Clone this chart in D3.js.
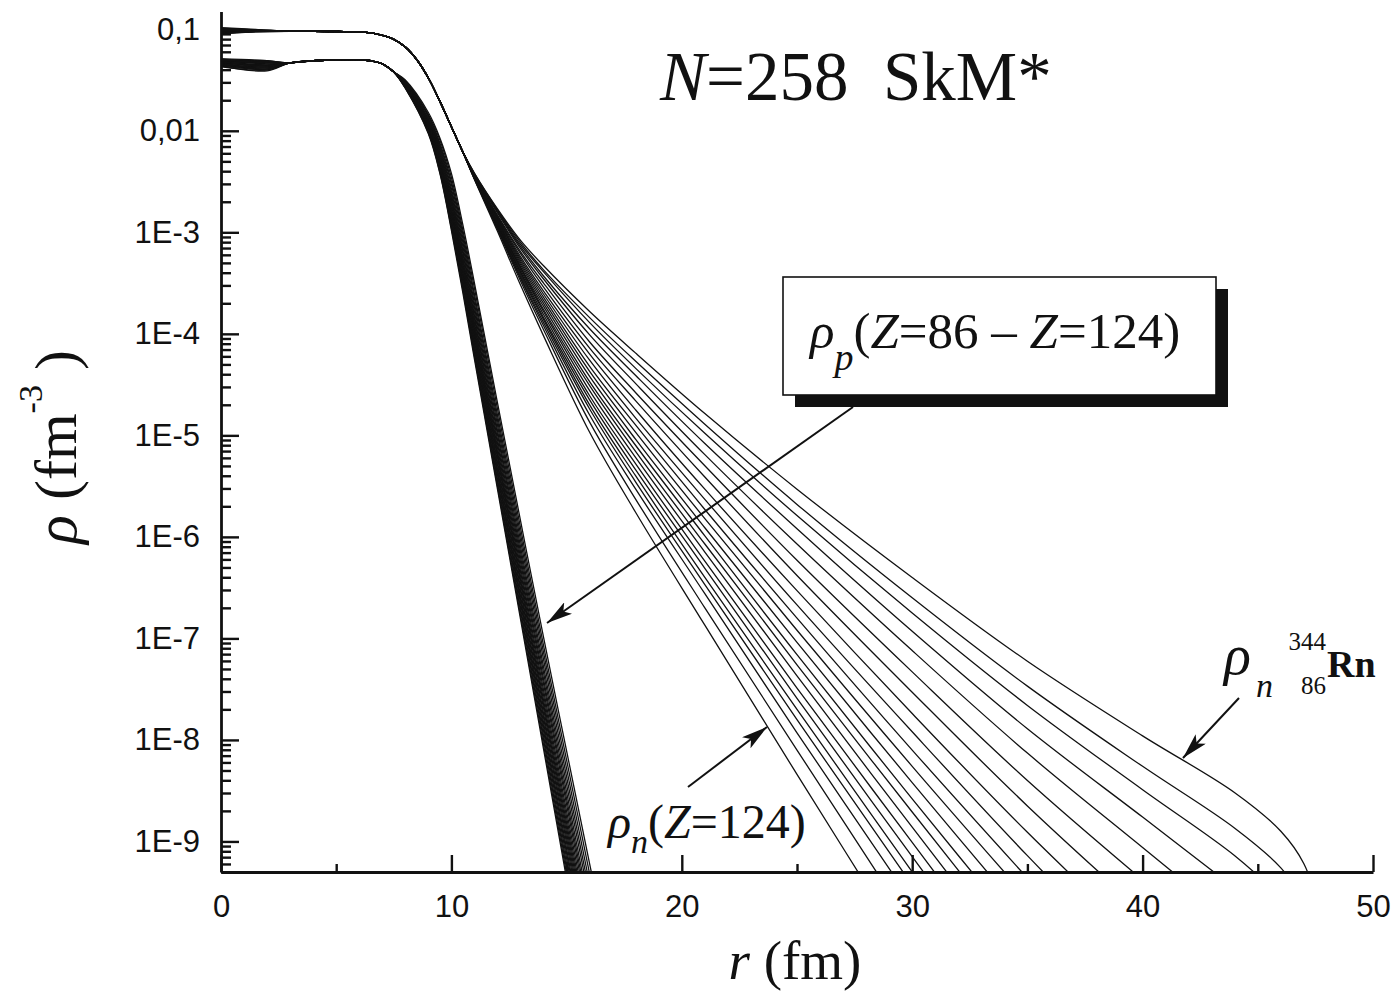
<!DOCTYPE html>
<html>
<head>
<meta charset="utf-8">
<script src="https://cdn.jsdelivr.net/npm/d3@7"></script>
<style>
  html, body { margin: 0; padding: 0; background: #fff; }
  svg { display: block; }
  .serif { font-family: "Liberation Serif", "Times New Roman", serif; fill: #111; }
  .sans { font-family: "Liberation Sans", Arial, sans-serif; fill: #111; }
</style>
</head>
<body>
<svg id="chart" width="1400" height="996"></svg>
<script>
// ---------------- data (densities given as log10 of rho, fm^-3) ----------------
const xTickValues = [0, 10, 20, 30, 40, 50];
const xMinorTicks = [5, 15, 25, 35, 45];
const yTickValues = [1e-1, 1e-2, 1e-3, 1e-4, 1e-5, 1e-6, 1e-7, 1e-8, 1e-9];
const yTickLabels = ["0,1", "0,01", "1E-3", "1E-4", "1E-5", "1E-6", "1E-7", "1E-8", "1E-9"];

// neutron densities: individual centre values, common interior, individual tails
const neutronCenterR = [0, 1.5];
const neutronCenterLog = [
  [-1.00, -1.01], [-1.02, -1.015], [-1.04, -1.02], [-0.99, -1.005], [-1.03, -1.02], [-1.01, -1.01],
  [-1.045, -1.025], [-1.00, -1.01], [-1.02, -1.02], [-0.985, -1.00], [-1.03, -1.015], [-1.015, -1.01],
  [-1.035, -1.02], [-1.00, -1.01], [-1.025, -1.015], [-1.04, -1.025], [-1.01, -1.01], [-0.995, -1.005],
  [-1.03, -1.02], [-1.02, -1.015], [-1.005, -1.01], [-1.04, -1.02]
];
const neutronCoreR = [3, 4, 5, 6, 6.5, 7, 7.5, 8, 8.5, 9, 9.5, 10, 10.5];
const neutronCoreLog = [-1.02, -1.02, -1.022, -1.025, -1.035, -1.06, -1.10, -1.175, -1.30, -1.48, -1.71, -1.96, -2.21];
const neutronTailR = [11, 12, 13, 14, 16, 18, 21, 25, 30, 35, 40, 44, 46, 47, 48];
const neutronTailLog = [
  [-2.48, -2.99, -3.52, -4.02, -4.97, -5.76, -6.87, -8.34, -10.15],
  [-2.475, -2.97, -3.48, -3.96, -4.87, -5.63, -6.70, -8.10, -9.84],
  [-2.47, -2.96, -3.455, -3.92, -4.80, -5.53, -6.56, -7.93, -9.60],
  [-2.47, -2.95, -3.44, -3.89, -4.74, -5.46, -6.47, -7.80, -9.43],
  [-2.47, -2.94, -3.42, -3.86, -4.70, -5.40, -6.40, -7.70, -9.30, -10.88],
  [-2.46, -2.93, -3.40, -3.84, -4.65, -5.34, -6.31, -7.59, -9.15, -10.69],
  [-2.46, -2.92, -3.39, -3.81, -4.61, -5.28, -6.24, -7.49, -9.01, -10.52],
  [-2.46, -2.91, -3.37, -3.78, -4.56, -5.22, -6.15, -7.37, -8.86, -10.33],
  [-2.46, -2.91, -3.35, -3.76, -4.51, -5.16, -6.07, -7.26, -8.71, -10.14],
  [-2.46, -2.90, -3.34, -3.73, -4.47, -5.10, -5.99, -7.16, -8.58, -9.97],
  [-2.45, -2.89, -3.32, -3.70, -4.42, -5.04, -5.91, -7.04, -8.42, -9.77],
  [-2.45, -2.88, -3.30, -3.67, -4.37, -4.97, -5.82, -6.92, -8.26, -9.56],
  [-2.45, -2.87, -3.28, -3.64, -4.32, -4.90, -5.73, -6.80, -8.10, -9.36],
  [-2.44, -2.86, -3.26, -3.61, -4.26, -4.83, -5.63, -6.67, -7.92, -9.14, -10.29],
  [-2.44, -2.85, -3.24, -3.58, -4.20, -4.75, -5.53, -6.53, -7.74, -8.91, -10.00],
  [-2.44, -2.84, -3.21, -3.54, -4.14, -4.66, -5.41, -6.38, -7.53, -8.65, -9.69],
  [-2.44, -2.83, -3.19, -3.50, -4.08, -4.58, -5.30, -6.23, -7.33, -8.40, -9.38],
  [-2.43, -2.81, -3.16, -3.46, -4.01, -4.49, -5.19, -6.07, -7.12, -8.13, -9.06, -9.80],
  [-2.43, -2.80, -3.14, -3.43, -3.95, -4.41, -5.08, -5.92, -6.93, -7.89, -8.76, -9.46],
  [-2.43, -2.79, -3.12, -3.39, -3.89, -4.34, -4.98, -5.79, -6.75, -7.66, -8.49, -9.14, -9.55],
  [-2.42, -2.78, -3.10, -3.37, -3.84, -4.27, -4.89, -5.68, -6.60, -7.47, -8.26, -8.87, -9.26, -9.59],
  [-2.42, -2.77, -3.08, -3.33, -3.78, -4.19, -4.785, -5.53, -6.40, -7.225, -7.96, -8.52, -8.90, -9.22, -9.90]
];

// proton densities: individual centre values, common interior, individual tails
const protonCenterR = [0, 2];
const protonCenterLog = [
  [-1.30, -1.32], [-1.33, -1.40], [-1.35, -1.38], [-1.31, -1.33], [-1.36, -1.41], [-1.32, -1.35],
  [-1.34, -1.37], [-1.30, -1.31], [-1.33, -1.36], [-1.37, -1.40], [-1.31, -1.34], [-1.35, -1.39],
  [-1.32, -1.33], [-1.34, -1.38], [-1.29, -1.31], [-1.36, -1.39], [-1.33, -1.35], [-1.31, -1.32],
  [-1.35, -1.37], [-1.32, -1.36], [-1.30, -1.33], [-1.34, -1.36]
];
const protonCoreR = [3, 4, 5, 6, 6.5, 7, 7.5];
const protonCoreLog = [-1.33, -1.31, -1.30, -1.30, -1.31, -1.34, -1.42];
const protonTailR = [8, 9, 9.5, 10, 10.5, 11, 12, 14, 16, 17];
const protonTailLog = [
  [-1.58, -2.03, -2.42, -2.98, -3.60, -4.25, -5.53, -8.09, -10.65],
  [-1.58, -2.02, -2.41, -2.96, -3.57, -4.22, -5.50, -8.05, -10.59],
  [-1.57, -2.01, -2.39, -2.94, -3.55, -4.19, -5.46, -8.00, -10.54],
  [-1.57, -2.01, -2.38, -2.91, -3.52, -4.16, -5.43, -7.96, -10.48],
  [-1.57, -2.00, -2.36, -2.89, -3.49, -4.13, -5.39, -7.91, -10.42],
  [-1.56, -1.99, -2.35, -2.87, -3.47, -4.10, -5.36, -7.87, -10.36],
  [-1.56, -1.98, -2.34, -2.85, -3.44, -4.07, -5.33, -7.83, -10.31],
  [-1.56, -1.97, -2.32, -2.82, -3.41, -4.04, -5.29, -7.78, -10.25],
  [-1.55, -1.96, -2.31, -2.80, -3.39, -4.01, -5.26, -7.74, -10.19],
  [-1.55, -1.95, -2.29, -2.78, -3.36, -3.98, -5.22, -7.69, -10.14],
  [-1.55, -1.95, -2.28, -2.76, -3.33, -3.95, -5.19, -7.65, -10.08],
  [-1.55, -1.94, -2.27, -2.73, -3.31, -3.92, -5.16, -7.61, -10.02],
  [-1.54, -1.93, -2.25, -2.71, -3.28, -3.89, -5.12, -7.56, -9.96],
  [-1.54, -1.92, -2.23, -2.68, -3.25, -3.85, -5.08, -7.51, -9.89],
  [-1.53, -1.91, -2.22, -2.66, -3.21, -3.82, -5.04, -7.45, -9.82],
  [-1.53, -1.90, -2.20, -2.63, -3.18, -3.78, -4.99, -7.40, -9.75],
  [-1.53, -1.89, -2.18, -2.60, -3.14, -3.74, -4.95, -7.34, -9.68],
  [-1.52, -1.88, -2.16, -2.57, -3.10, -3.70, -4.90, -7.28, -9.59],
  [-1.52, -1.86, -2.14, -2.53, -3.06, -3.65, -4.85, -7.21, -9.51],
  [-1.51, -1.85, -2.12, -2.50, -3.02, -3.61, -4.80, -7.14, -9.42],
  [-1.51, -1.84, -2.09, -2.46, -2.98, -3.55, -4.74, -7.07, -9.32, -10.45],
  [-1.50, -1.82, -2.07, -2.42, -2.93, -3.50, -4.68, -6.99, -9.22, -10.34]
];

// ---------------- layout ----------------
const svg = d3.select("#chart");
const x = d3.scaleLinear().domain([0, 50]).range([221, 1373]);
const y = d3.scaleLog().domain([5e-10, 0.15]).range([872, 11.4]);

function profile(centerR, centerLog, coreR, coreLog, tailR, tailLog) {
  const pts = [];
  centerR.forEach((r, k) => pts.push([r, Math.pow(10, centerLog[k])]));
  coreR.forEach((r, k) => pts.push([r, Math.pow(10, coreLog[k])]));
  tailLog.forEach((v, k) => pts.push([tailR[k], Math.pow(10, v)]));
  return pts;
}
const neutronCurves = neutronTailLog.map((tail, i) =>
  profile(neutronCenterR, neutronCenterLog[i], neutronCoreR, neutronCoreLog, neutronTailR, tail));
const protonCurves = protonTailLog.map((tail, i) =>
  profile(protonCenterR, protonCenterLog[i], protonCoreR, protonCoreLog, protonTailR, tail));

const defs = svg.append("defs");
defs.append("clipPath").attr("id", "plotArea")
  .append("rect").attr("x", 221).attr("y", 11).attr("width", 1152).attr("height", 861);
defs.append("marker")
  .attr("id", "head").attr("viewBox", "0 0 26 14").attr("refX", 26).attr("refY", 7)
  .attr("markerWidth", 26).attr("markerHeight", 14).attr("markerUnits", "userSpaceOnUse")
  .attr("orient", "auto")
  .append("path").attr("d", "M0,0 L26,7 L0,14 L6,7 Z").attr("fill", "#111");

const line = d3.line()
  .x(d => x(d[0]))
  .y(d => y(d[1]))
  .curve(d3.curveCatmullRom.alpha(0.5));

const curves = svg.append("g").attr("clip-path", "url(#plotArea)");
curves.selectAll("path.n").data(neutronCurves).join("path")
  .attr("class", "n").attr("d", line)
  .attr("fill", "none").attr("stroke", "#111").attr("stroke-width", 1.3);
curves.selectAll("path.p").data(protonCurves).join("path")
  .attr("class", "p").attr("d", line)
  .attr("fill", "none").attr("stroke", "#111").attr("stroke-width", 1.3);

// ---------------- axes ----------------
const yMinor = [];
for (let e = -10; e <= -1; e++) {
  for (let m = 2; m <= 9; m++) {
    const v = m * Math.pow(10, e);
    if (v >= 5e-10 && v <= 0.15) yMinor.push(v);
  }
}

svg.append("g").attr("transform", "translate(221,0)")
  .call(d3.axisLeft(y).tickValues(yTickValues)
    .tickFormat((d, i) => yTickLabels[i])
    .tickSizeInner(-18).tickSizeOuter(0).tickPadding(21));
svg.append("g").attr("transform", "translate(221,0)")
  .call(d3.axisLeft(y).tickValues(yMinor).tickFormat("")
    .tickSizeInner(-10).tickSizeOuter(0))
  .call(g => g.select(".domain").remove());

svg.append("g").attr("transform", "translate(0,872)")
  .call(d3.axisBottom(x).tickValues(xTickValues).tickFormat(d3.format("d"))
    .tickSizeInner(-17).tickSizeOuter(0).tickPadding(23));
svg.append("g").attr("transform", "translate(0,872)")
  .call(d3.axisBottom(x).tickValues(xMinorTicks).tickFormat("")
    .tickSizeInner(-8).tickSizeOuter(0))
  .call(g => g.select(".domain").remove());

svg.selectAll(".domain").attr("stroke", "#111").attr("stroke-width", 2.8);
svg.selectAll(".tick line").attr("stroke", "#111").attr("stroke-width", 2.4);
svg.selectAll(".tick text")
  .attr("font-family", "'Liberation Sans', Arial, sans-serif")
  .attr("font-size", 31).attr("fill", "#111");

// ---------------- titles and labels ----------------
const title = svg.append("text").attr("class", "serif")
  .attr("x", 660).attr("y", 100).attr("font-size", 69)
  .attr("xml:space", "preserve").style("white-space", "pre");
title.append("tspan").attr("font-style", "italic").text("N");
title.append("tspan").text("=258  SkM*");

const xTitle = svg.append("text").attr("class", "serif")
  .attr("x", 795).attr("y", 979).attr("text-anchor", "middle").attr("font-size", 55)
  .style("white-space", "pre");
xTitle.append("tspan").attr("font-style", "italic").text("r");
xTitle.append("tspan").text(" (fm)");

const yTitle = svg.append("text").attr("class", "serif")
  .attr("transform", "translate(76,447) rotate(-90)")
  .attr("text-anchor", "middle").attr("font-size", 60).style("white-space", "pre");
yTitle.append("tspan").attr("font-style", "italic").text("ρ");
yTitle.append("tspan").text(" (fm");
yTitle.append("tspan").attr("font-size", 34).attr("dy", -34).text("-3");
yTitle.append("tspan").attr("dy", 34).text(" )");

// legend box with drop shadow
svg.append("rect").attr("x", 795).attr("y", 289).attr("width", 433).attr("height", 118).attr("fill", "#111");
svg.append("rect").attr("x", 783).attr("y", 277).attr("width", 433).attr("height", 118)
  .attr("fill", "#fff").attr("stroke", "#111").attr("stroke-width", 1.6);
const legendText = svg.append("text").attr("class", "serif")
  .attr("x", 810).attr("y", 348).attr("font-size", 51).style("white-space", "pre");
legendText.append("tspan").attr("font-style", "italic").text("ρ");
legendText.append("tspan").attr("font-style", "italic").attr("font-size", 38).attr("dy", 22).text("p");
legendText.append("tspan").attr("dy", -22).text("(");
legendText.append("tspan").attr("font-style", "italic").text("Z");
legendText.append("tspan").text("=86 – ");
legendText.append("tspan").attr("font-style", "italic").text("Z");
legendText.append("tspan").text("=124)");

// label for the steepest neutron tail
const nLabel = svg.append("text").attr("class", "serif")
  .attr("x", 608).attr("y", 838).attr("font-size", 48);
nLabel.append("tspan").attr("font-style", "italic").text("ρ");
nLabel.append("tspan").attr("font-style", "italic").attr("font-size", 34).attr("dy", 15).text("n");
nLabel.append("tspan").attr("dy", -15).text("(");
nLabel.append("tspan").attr("font-style", "italic").text("Z");
nLabel.append("tspan").text("=124)");

// label for the 344Rn neutron tail
svg.append("text").attr("class", "serif").attr("x", 1224).attr("y", 674)
  .attr("font-size", 56).attr("font-style", "italic").text("ρ");
svg.append("text").attr("class", "serif").attr("x", 1256).attr("y", 697)
  .attr("font-size", 34).attr("font-style", "italic").text("n");
svg.append("text").attr("class", "serif").attr("x", 1326).attr("y", 650)
  .attr("font-size", 25).attr("text-anchor", "end").text("344");
svg.append("text").attr("class", "serif").attr("x", 1326).attr("y", 694)
  .attr("font-size", 25).attr("text-anchor", "end").text("86");
svg.append("text").attr("class", "serif").attr("x", 1327).attr("y", 677)
  .attr("font-size", 38).attr("font-weight", "bold").text("Rn");

// arrows
const arrows = [
  [[853, 407], [547, 623]],
  [[688, 787], [767, 727]],
  [[1239, 698], [1183, 758]]
];
svg.append("g").selectAll("line").data(arrows).join("line")
  .attr("x1", d => d[0][0]).attr("y1", d => d[0][1])
  .attr("x2", d => d[1][0]).attr("y2", d => d[1][1])
  .attr("stroke", "#111").attr("stroke-width", 2)
  .attr("marker-end", "url(#head)");
</script>
</body>
</html>
